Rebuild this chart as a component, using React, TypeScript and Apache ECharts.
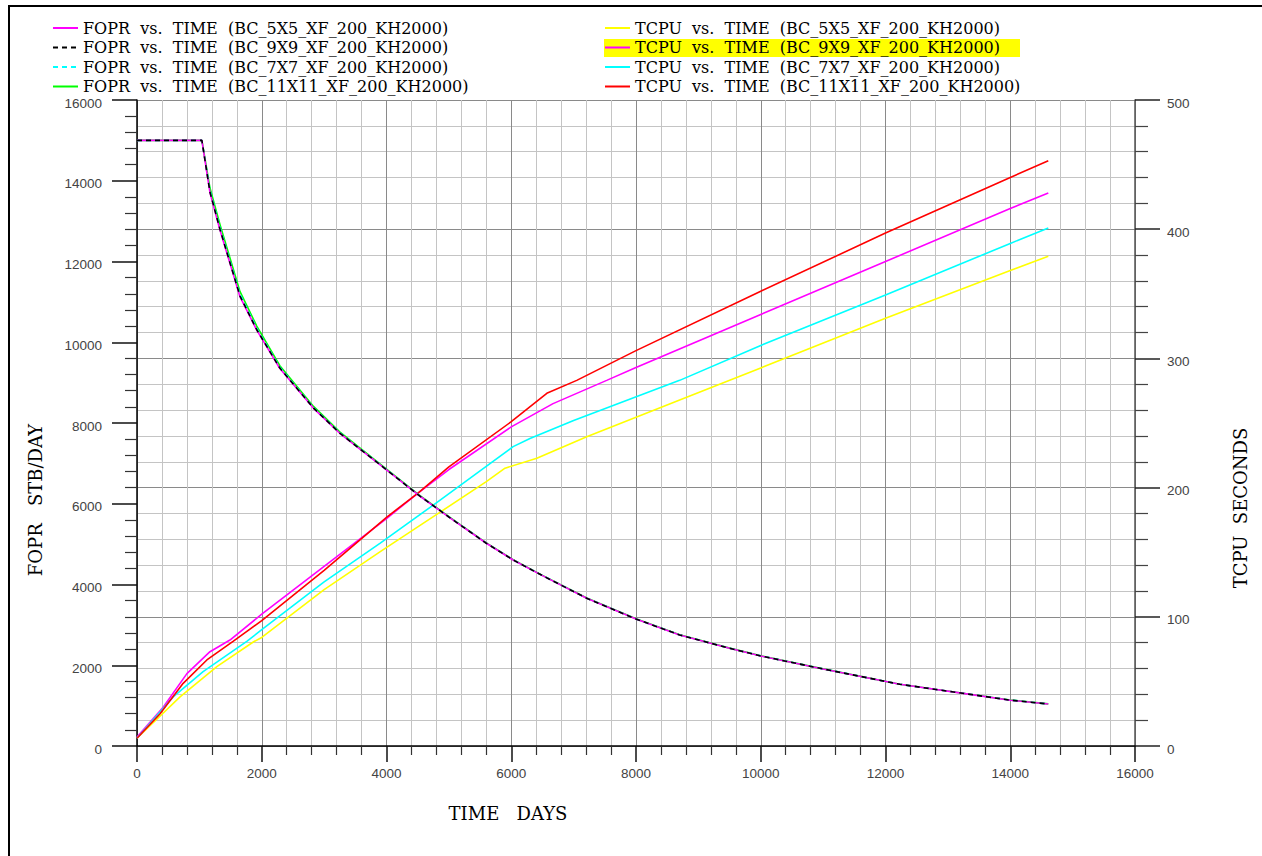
import React, { useEffect, useRef } from 'react';
import * as echarts from 'echarts';

// ---- FOPR (left axis, STB/DAY) ----
const foprTime = [0, 1040, 1170, 1330, 1650, 1920, 2290, 2830, 3250, 4000, 4510, 5000, 5600, 6030, 6500, 7210, 8010, 8700, 9500, 10000, 11000, 12230, 13300, 14000, 14610];
const fopr5x5 = [15000, 15000, 13700, 12780, 11130, 10300, 9350, 8364, 7745, 6840, 6217, 5670, 5021, 4607, 4220, 3659, 3138, 2750, 2420, 2230, 1907, 1528, 1290, 1135, 1040];
const fopr9x9 = [15000, 15000, 13720, 12800, 11150, 10310, 9360, 8370, 7750, 6842, 6220, 5672, 5022, 4608, 4221, 3660, 3139, 2751, 2421, 2231, 1908, 1529, 1291, 1136, 1040];
const fopr7x7 = [15000, 15000, 13760, 12840, 11190, 10340, 9380, 8380, 7758, 6846, 6222, 5674, 5024, 4610, 4222, 3661, 3140, 2752, 2422, 2232, 1909, 1530, 1292, 1137, 1042];
const fopr11x11 = [15000, 15000, 13820, 12920, 11260, 10400, 9420, 8410, 7780, 6860, 6232, 5680, 5030, 4615, 4226, 3665, 3143, 2755, 2424, 2234, 1911, 1531, 1293, 1138, 1043];

// ---- TCPU (right axis, seconds) ----
const tcpu5x5Time = [0, 690, 1280, 1870, 2000, 3000, 3900, 4860, 5600, 5900, 6410, 7210, 8700, 10000, 12000, 14000, 14610];
const tcpu5x5 = [6, 38, 61.4, 80.7, 84, 121, 150.4, 181, 204.6, 215, 222.7, 239.4, 267.8, 292.6, 331, 368, 379];
const tcpu9x9Time = [0, 420, 800, 1170, 1490, 2000, 3000, 4000, 4510, 5000, 6000, 6670, 7530, 8000, 10000, 12000, 14000, 14610];
const tcpu9x9 = [7, 30, 56, 73, 82, 102, 139, 176, 196, 214, 247, 265, 283, 293, 334, 375, 416, 428];
const tcpu7x7Time = [0, 580, 1060, 1760, 2000, 3000, 3900, 4750, 5500, 6030, 6300, 7000, 8700, 10000, 12000, 14000, 14610];
const tcpu7x7 = [6, 38, 57.5, 81, 90, 127, 157, 186.5, 213, 231.7, 238, 252, 283, 310, 349, 389, 401];
const tcpu11x11Time = [0, 370, 740, 1120, 1540, 2000, 3000, 4000, 4510, 5000, 6000, 6570, 7050, 8000, 10000, 12000, 14000, 14610];
const tcpu11x11 = [6, 25, 48.5, 66.6, 81, 97, 136, 177, 196, 216, 251, 273, 283, 306, 352, 397, 440, 453];

const foprNames = [
  'FOPR  vs.  TIME  (BC_5X5_XF_200_KH2000)',
  'FOPR  vs.  TIME  (BC_9X9_XF_200_KH2000)',
  'FOPR  vs.  TIME  (BC_7X7_XF_200_KH2000)',
  'FOPR  vs.  TIME  (BC_11X11_XF_200_KH2000)',
];
const tcpuNames = [
  'TCPU  vs.  TIME  (BC_5X5_XF_200_KH2000)',
  'TCPU  vs.  TIME  (BC_9X9_XF_200_KH2000)',
  'TCPU  vs.  TIME  (BC_7X7_XF_200_KH2000)',
  'TCPU  vs.  TIME  (BC_11X11_XF_200_KH2000)',
];

const pts = (t: number[], v: number[]) => t.map((x, i) => [x, v[i]]);

export default function App() {
  const ref = useRef<HTMLDivElement>(null);
  useEffect(() => {
    const chart = echarts.init(ref.current!, null, { renderer: 'svg' });
    const serif = 'DejaVu Serif';
    const sans = 'Liberation Sans';
    const line = (name: string, data: number[][], color: string, yAxisIndex: number, z: number, dashed = false) => ({
      name,
      type: 'line',
      data,
      yAxisIndex,
      z,
      symbol: 'none',
      showSymbol: false,
      lineStyle: { color, width: 1.6, type: dashed ? [5, 4] : 'solid' },
      itemStyle: { color },
    });
    const legendText = { fontFamily: serif, fontSize: 16, color: '#000', lineHeight: 12 };
    const hiddenSymbol = { color: 'rgba(0,0,0,0)', borderWidth: 0, opacity: 0 };
    const plainLabel = (v: number) => String(v);
    const tickLabel = { fontFamily: sans, fontSize: 13.5, color: '#444', formatter: plainLabel };
    chart.setOption({
      animation: false,
      backgroundColor: '#fff',
      grid: { left: 137, right: 127, top: 100, bottom: 110, containLabel: false },
      legend: [
        {
          orient: 'vertical', left: 52, top: 20, padding: 0, itemWidth: 25, itemHeight: 10, itemGap: 3.5,
          data: foprNames, textStyle: legendText, z: 5, itemStyle: hiddenSymbol,
        },
        {
          orient: 'vertical', left: 604, top: 20, padding: 0, itemWidth: 25, itemHeight: 10, itemGap: 3.5,
          data: tcpuNames, textStyle: legendText, z: 5, itemStyle: hiddenSymbol,
        },
      ],
      xAxis: {
        type: 'value', min: 0, max: 16000, interval: 2000,
        axisLine: { show: true, lineStyle: { color: '#000', width: 1.5 } },
        axisTick: { show: true, inside: false, length: 16, lineStyle: { color: '#111', width: 1.5 } },
        minorTick: { show: true, splitNumber: 5, length: 9, lineStyle: { color: '#333', width: 1.2 } },
        axisLabel: { ...tickLabel, lineHeight: 10, margin: 22 },
        splitLine: { show: true, lineStyle: { color: '#8a8a8a', width: 1 } },
        minorSplitLine: { show: true, lineStyle: { color: '#c4c4c4', width: 1 } },
      },
      yAxis: [
        {
          type: 'value', min: 0, max: 16000, interval: 2000, position: 'left',
          axisLine: { show: true, lineStyle: { color: '#000', width: 1.5 } },
          axisTick: { show: true, inside: false, length: 25, lineStyle: { color: '#111', width: 1.5 } },
          minorTick: { show: true, splitNumber: 5, length: 12, lineStyle: { color: '#333', width: 1.2 } },
          axisLabel: { ...tickLabel, margin: 35, verticalAlign: 'top', lineHeight: 6 },
          splitLine: { show: false },
          minorSplitLine: { show: false },
        },
        {
          type: 'value', min: 0, max: 500, interval: 100, position: 'right',
          axisLine: { show: true, lineStyle: { color: '#555', width: 1.5 } },
          axisTick: { show: true, inside: false, length: 25, lineStyle: { color: '#222', width: 1.5 } },
          minorTick: { show: true, splitNumber: 5, length: 13, lineStyle: { color: '#444', width: 1.2 } },
          axisLabel: { ...tickLabel, margin: 32, align: 'left', verticalAlign: 'top', lineHeight: 6 },
          splitLine: { show: true, lineStyle: { color: '#8a8a8a', width: 1 } },
          minorSplitLine: { show: true, lineStyle: { color: '#c4c4c4', width: 1 } },
        },
      ],
      graphic: [
        { type: 'rect', z: 0, shape: { x: 604, y: 39, width: 416, height: 18 }, style: { fill: '#ffff00' } },
        { type: 'polyline', z: 10, shape: { points: [[9, 856], [9, 6], [1262, 6]] }, style: { stroke: '#000', lineWidth: 2, fill: null } },
        { type: 'text', x: 508, y: 813, z: 10, style: { text: 'TIME   DAYS', fontFamily: serif, fontSize: 18, fill: '#000', align: 'center', verticalAlign: 'middle' } },
        { type: 'text', x: 35, y: 500, z: 10, rotation: Math.PI / 2, style: { text: 'FOPR   STB/DAY', fontFamily: serif, fontSize: 18, fill: '#000', align: 'center', verticalAlign: 'middle' } },
        { type: 'text', x: 1240, y: 508, z: 10, rotation: Math.PI / 2, style: { text: 'TCPU  SECONDS', fontFamily: serif, fontSize: 18, fill: '#000', align: 'center', verticalAlign: 'middle' } },
      ],
      series: [
        line(foprNames[0], pts(foprTime, fopr5x5), '#ff00ff', 0, 5),
        line(foprNames[1], pts(foprTime, fopr9x9), '#000000', 0, 6, true),
        line(foprNames[2], pts(foprTime, fopr7x7), '#00ffff', 0, 4, true),
        line(foprNames[3], pts(foprTime, fopr11x11), '#00ff00', 0, 3),
        line(tcpuNames[0], pts(tcpu5x5Time, tcpu5x5), '#ffff00', 1, 2),
        line(tcpuNames[1], pts(tcpu9x9Time, tcpu9x9), '#ff00ff', 1, 2),
        line(tcpuNames[2], pts(tcpu7x7Time, tcpu7x7), '#00ffff', 1, 2),
        line(tcpuNames[3], pts(tcpu11x11Time, tcpu11x11), '#ff0000', 1, 2),
      ],
    });
    return () => chart.dispose();
  }, []);
  return <div ref={ref} style={{ position: 'fixed', left: 0, top: 0, width: 1262, height: 856, background: '#fff' }} />;
}
